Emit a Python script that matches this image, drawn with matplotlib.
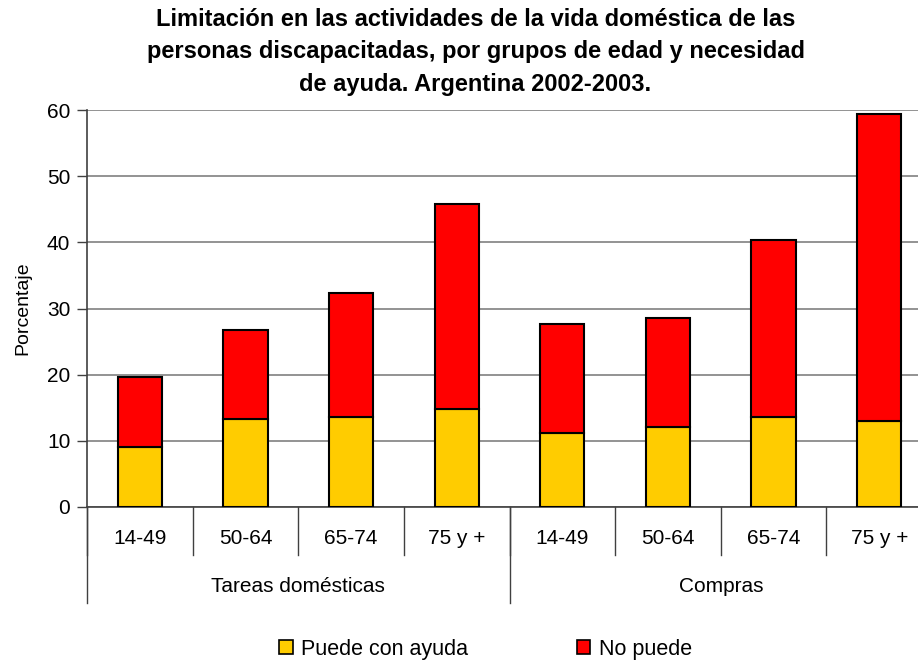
import numpy as np
import matplotlib
matplotlib.use('Agg')
import matplotlib.pyplot as plt
from matplotlib.patches import Patch
from matplotlib.transforms import blended_transform_factory

plt.rcParams['font.family'] = ['Liberation Sans', 'DejaVu Sans']

# data
grupos = ['Tareas domésticas', 'Compras']
edades = ['14-49', '50-64', '65-74', '75 y +']
con_ayuda = [9.1, 13.3, 13.6, 14.8, 11.2, 12.1, 13.6, 13.0]
no_puede_total = [19.7, 26.7, 32.4, 45.8, 27.6, 28.5, 40.3, 59.4]
no_puede = [t - a for t, a in zip(no_puede_total, con_ayuda)]
series_names = ['Puede con ayuda', 'No puede']
colores = ['#FFCC00', '#FF0000']

titulo = ('Limitación en las actividades de la vida doméstica de las\n'
          'personas discapacitadas, por grupos de edad y necesidad\n'
          'de ayuda. Argentina 2002-2003.')

fig = plt.figure(figsize=(9.18, 6.6), dpi=100)
ax = fig.add_axes([87 / 918, 153 / 660, 845 / 918, 397 / 660])

x = np.arange(len(con_ayuda))
ax.bar(x, con_ayuda, width=0.42, color=colores[0], edgecolor='black', linewidth=1.5, zorder=3)
ax.bar(x, no_puede, bottom=con_ayuda, width=0.42, color=colores[1], edgecolor='black',
       linewidth=1.5, zorder=3)

ax.set_xlim(-0.5, len(x) - 0.5)
ax.set_ylim(0, 60)
ax.set_yticks(range(0, 61, 10))
ax.tick_params(axis='y', labelsize=15, length=7, width=1, color='#404040', pad=5)
ax.set_xticks([])
ax.yaxis.grid(True, color='#808080', linewidth=1.2, zorder=0)
for s in ['top', 'right']:
    ax.spines[s].set_visible(False)
for s in ['left', 'bottom']:
    ax.spines[s].set_color('#404040')
    ax.spines[s].set_linewidth(1.2)
ax.set_ylabel('Porcentaje', fontsize=14, labelpad=11)

# two-level category axis
tr = blended_transform_factory(ax.transData, ax.transAxes)
h = 397.0
labels = edades * len(grupos)
for i, lab in enumerate(labels):
    ax.text(i, -32 / h, lab, transform=tr, ha='center', va='center', fontsize=15)
for b in np.arange(-0.5, len(x), 1.0):
    ax.plot([b, b], [0, -48 / h], transform=tr, color='#404040', lw=1, clip_on=False)
for g, nombre in enumerate(grupos):
    ax.text(g * 4 + 1.5, -80 / h, nombre, transform=tr, ha='center', va='center', fontsize=15)
for b in [-0.5, 3.5, 7.5]:
    ax.plot([b, b], [0, -96 / h], transform=tr, color='#404040', lw=1, clip_on=False)

fig.text(0.518, 0.988, titulo, ha='center', va='top', fontsize=17, fontweight='bold',
         linespacing=1.52)

handles = [Patch(facecolor=c, edgecolor='black', linewidth=1.2) for c in colores]
fig.legend(handles, series_names, loc='center', bbox_to_anchor=(0.529, 0.016), ncol=2,
           frameon=False, fontsize=15.5, handlelength=0.62, handleheight=0.62,
           handletextpad=0.4, columnspacing=5.05)

fig.savefig('out.png', dpi=100)
